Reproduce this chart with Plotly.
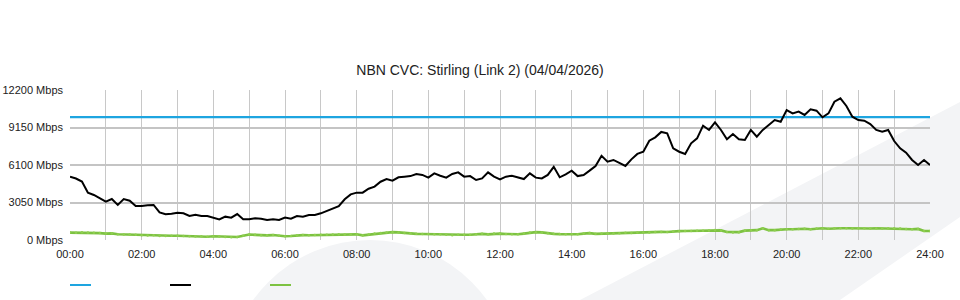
import plotly.graph_objects as go

# ---- data (10-minute samples, 00:00 .. 24:00) ----
hours = [i / 6 for i in range(145)]
tick_hours = [0, 2, 4, 6, 8, 10, 12, 14, 16, 18, 20, 22, 24]
tick_labels = ["00:00", "02:00", "04:00", "06:00", "08:00", "10:00", "12:00",
               "14:00", "16:00", "18:00", "20:00", "22:00", "24:00"]
y_ticks = [0, 3050, 6100, 9150, 12200]
y_labels = ["0 Mbps", "3050 Mbps", "6100 Mbps", "9150 Mbps", "12200 Mbps"]

capacity_x = [0, 24]
capacity = [10000, 10000]

download = [
    5150, 5000, 4750, 3850, 3660, 3390, 3120,
    3330, 2850, 3330, 3200, 2770, 2760,
    2820, 2850, 2250, 2090, 2140, 2220,
    2170, 1950, 2060, 1950, 1950, 1820,
    1680, 1900, 1820, 2110, 1680, 1680,
    1760, 1730, 1630, 1680, 1630, 1820,
    1730, 1950, 1900, 2030, 2030, 2170,
    2360, 2550, 2760, 3310, 3710, 3850,
    3850, 4170, 4340, 4740, 4960, 4830,
    5100, 5150, 5200, 5370, 5290, 5070,
    5420, 5230, 5070, 5370, 5500, 5150,
    5200, 4880, 5010, 5500, 5150, 4930,
    5150, 5230, 5100, 4960, 5420, 5070,
    5010, 5290, 5950, 5100, 5340, 5640,
    5200, 5290, 5640, 6020, 6850, 6370,
    6510, 6240, 6020, 6560, 7000, 7180,
    8080, 8350, 8790, 8680, 7460, 7180,
    7000, 7860, 8270, 9300, 8950, 9560,
    8950, 8190, 8620, 8190, 8130, 8950,
    8400, 8950, 9350, 9760, 9620, 10570,
    10300, 10440, 10170, 10630, 10520, 9980,
    10300, 11250, 11520, 10900, 10030, 9760,
    9700, 9430, 8950, 8810, 8950, 8050,
    7460, 7100, 6510, 6100, 6510, 6100,
]

upload = [
    600, 590, 640, 610, 590, 560, 520,
    540, 470, 450, 440, 420, 390,
    370, 380, 330, 320, 340, 350,
    330, 300, 280, 300, 270, 300,
    290, 250, 220, 250, 350, 450,
    420, 380, 380, 400, 340, 300,
    320, 380, 400, 390, 400, 420,
    430, 440, 460, 450, 460, 460,
    380, 440, 520, 560, 600, 640,
    620, 560, 540, 500, 490, 480,
    470, 460, 420, 390, 420, 430,
    430, 460, 500, 460, 520, 520,
    490, 460, 470, 520, 600, 640,
    620, 540, 500, 480, 470, 470,
    470, 520, 560, 500, 520, 540,
    520, 540, 580, 560, 600, 610,
    620, 650, 660, 650, 700, 720,
    730, 740, 760, 760, 780, 810,
    780, 650, 620, 640, 760, 800,
    800, 950, 800, 800, 860, 880,
    870, 900, 920, 880, 930, 950,
    920, 960, 950, 960, 940, 950,
    960, 930, 960, 940, 950, 950,
    930, 900, 870, 900, 730, 730,
]

BLUE = "#1ea5e0"
BLACK = "#000000"
GREEN = "#7dc242"
BG_GREY = "#f3f4f6"

fig = go.Figure()
fig.add_trace(go.Scatter(x=capacity_x, y=capacity, mode="lines",
                         line=dict(color=BLUE, width=2.2), name="", showlegend=False,
                         hoverinfo="skip"))
fig.add_trace(go.Scatter(x=hours, y=download, mode="lines",
                         line=dict(color=BLACK, width=2), name="", showlegend=False))
fig.add_trace(go.Scatter(x=hours, y=upload, mode="lines+markers",
                         line=dict(color=GREEN, width=2.6),
                         marker=dict(size=2.5, color="#8fcf50"),
                         name="", showlegend=False))

PL, PR, PT, PB = 70, 30, 90, 60
W, H = 960, 300
pw, ph = W - PL - PR, H - PT - PB


def px(xp):
    return (xp - PL) / pw


def py(yp):
    return (H - PB - yp) / ph


shapes = []
# decorative background: round shape + diagonal band
shapes.append(dict(type="circle", xref="paper", yref="paper", layer="below",
                   x0=px(226), x1=px(514), y0=py(528), y1=py(240),
                   fillcolor=BG_GREY, line=dict(width=0)))
band = [(580, 300), (960, 102), (960, 217), (840, 300)]
path = "M " + " L ".join(f"{px(a)},{py(b)}" for a, b in band) + " Z"
shapes.append(dict(type="path", xref="paper", yref="paper", layer="below",
                   path=path, fillcolor=BG_GREY, line=dict(width=0)))
# legend keys
for i, c in enumerate([BLUE, BLACK, GREEN]):
    x0 = 70 + 100 * i
    shapes.append(dict(type="line", xref="paper", yref="paper",
                       x0=px(x0), x1=px(x0 + 21), y0=py(285), y1=py(285),
                       line=dict(color=c, width=2)))

fig.update_layout(
    width=W, height=H,
    margin=dict(l=PL, r=PR, t=PT, b=PB, autoexpand=False),
    paper_bgcolor="white", plot_bgcolor="rgba(0,0,0,0)",
    font=dict(family="Liberation Sans, Arial, sans-serif", size=11, color="#222"),
    title=dict(text="NBN CVC: Stirling (Link 2) (04/04/2026)",
               x=0.5, xanchor="center", xref="container",
               y=1 - 70 / H, yanchor="middle", yref="container",
               font=dict(size=14, color="#222")),
    shapes=shapes,
    showlegend=False,
    xaxis=dict(range=[0, 24], tickvals=tick_hours, ticktext=tick_labels,
               showgrid=True, gridcolor="#c8c8c8", gridwidth=1, automargin=False,
               minor=dict(dtick=1, tick0=0, showgrid=True, gridcolor="#c8c8c8", gridwidth=1),
               zeroline=False, showline=False, ticks="", ticklabelstandoff=6,
               fixedrange=True),
    yaxis=dict(range=[0, 12200], tickvals=y_ticks, ticktext=y_labels,
               showgrid=True, gridcolor="#c4c4c4", gridwidth=2, automargin=False,
               zeroline=False, showline=False, ticks="", ticklabelstandoff=6,
               fixedrange=True),
)

fig.write_html("out.html")
